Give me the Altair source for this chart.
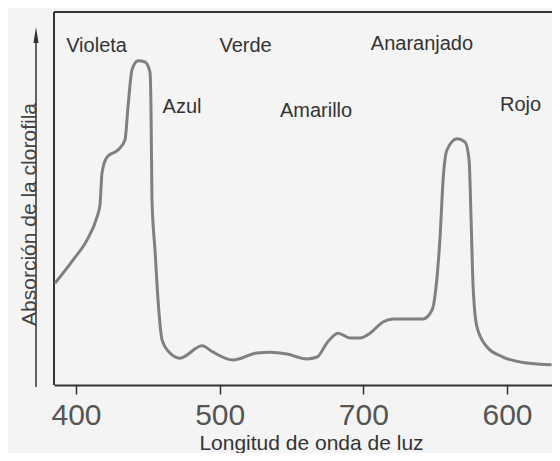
import altair as alt
import pandas as pd

# Curve (wavelength as drawn on the axis, relative absorption 0-100)
wavelength = [385.4, 397.9, 407.7, 414.6, 416.7, 418.1, 421.6, 429.2, 434.1, 436.2,
              439.0, 443.2, 448.0, 451.5, 452.2, 452.9, 455.0, 457.1, 459.9, 465.4,
              472.4, 487.7, 495.4, 509.3, 526.0, 535.0, 546.9, 560.8, 567.8, 574.7,
              582.4, 590.7, 597.7, 604.7, 613.7, 620.7, 641.5, 647.8, 651.3, 653.4,
              655.5, 658.2, 665.2, 670.8, 673.6, 675.0, 676.4, 679.1, 686.1, 697.2,
              713.9, 731.0]
absorption = [27.3, 33.5, 38.9, 45.0, 48.3, 56.8, 61.1, 63.0, 65.7, 74.5,
              84.5, 86.9, 86.6, 83.9, 74.5, 49.6, 36.2, 22.8, 12.1, 8.6,
              7.2, 10.5, 8.8, 6.7, 8.6, 8.8, 8.3, 7.0, 7.5, 11.3,
              13.9, 12.6, 12.6, 13.9, 16.9, 17.7, 17.7, 20.1, 29.0, 39.7,
              55.0, 63.0, 66.0, 65.1, 60.3, 44.2, 26.3, 15.5, 10.2, 7.5,
              5.9, 5.4]

# Colour names placed inside the plot
color_names = ["Violeta", "Verde", "Azul", "Amarillo", "Anaranjado", "Rojo"]
name_x = [414.3, 518.0, 473.8, 567.1, 640.8, 709.4]
name_y = [89.3, 89.3, 72.9, 71.8, 89.7, 73.5]

# Axis ticks
tick_values = [400, 500, 600, 700]
tick_labels = ["400", "500", "700", "600"]

x_title = "Longitud de onda de luz"
y_title = "Absorción de la clorofila"

W, H = 498, 373
FONT = "Liberation Sans"
DARK = "#333333"

curve_df = pd.DataFrame({"nm": wavelength, "abs": absorption})
names_df = pd.DataFrame({"name": color_names, "nm": name_x, "abs": name_y})
one = pd.DataFrame({"k": [0]})

label_expr = " : ".join(
    f"datum.value == {v} ? '{l}'" for v, l in zip(tick_values, tick_labels)
) + " : ''"

x_scale = alt.Scale(domain=[384.7, 731.3], nice=False, zero=False)
y_scale = alt.Scale(domain=[0, 100], nice=False, zero=True)

x_axis = alt.Axis(
    values=tick_values, labelExpr=label_expr, grid=False,
    domainColor=DARK, domainWidth=2, tickColor=DARK, tickWidth=1.5, tickSize=9,
    labelFont=FONT, labelFontSize=30, labelColor="#555555", labelPadding=6,
    title=x_title, titleFont=FONT, titleFontSize=21, titleFontWeight="normal",
    titleColor=DARK, titleX=257, titleY=64, titleBaseline="alphabetic",
    titleAlign="center",
)
y_axis = alt.Axis(
    domain=False, ticks=False, labels=False, grid=False,
    title=y_title, titleFont=FONT, titleFontSize=21, titleFontWeight="normal",
    titleColor="#444444", titleX=-19, titleY=202, titleAngle=-90,
    titleBaseline="alphabetic", titleAlign="center",
)

curve = alt.Chart(curve_df).mark_line(
    color="#808080", strokeWidth=3, interpolate="monotone"
).encode(
    x=alt.X("nm:Q", scale=x_scale, axis=x_axis),
    y=alt.Y("abs:Q", scale=y_scale, axis=y_axis),
    order="nm:Q",
)

labels = alt.Chart(names_df).mark_text(
    font=FONT, fontSize=20, color=DARK, align="center", baseline="alphabetic"
).encode(
    x=alt.X("nm:Q", scale=x_scale),
    y=alt.Y("abs:Q", scale=y_scale),
    text="name:N",
)

top_line = alt.Chart(one).mark_rule(color=DARK, strokeWidth=2).encode(
    x=alt.value(0), x2=alt.value(W), y=alt.value(0)
)
left_line = alt.Chart(one).mark_rule(color=DARK, strokeWidth=2).encode(
    x=alt.value(0), y=alt.value(0), y2=alt.value(H)
)
arrow_line = alt.Chart(one).mark_rule(color=DARK, strokeWidth=1.5).encode(
    x=alt.value(-18), y=alt.value(22), y2=alt.value(375)
)
arrow_head = alt.Chart(one).mark_point(
    shape="M0,-1L0.32,1L-0.32,1Z", filled=True, color=DARK, opacity=1, size=256
).encode(x=alt.value(-18), y=alt.value(23))

chart = alt.layer(
    top_line, left_line, arrow_line, arrow_head, curve, labels
).properties(
    width=W, height=H,
    autosize=alt.AutoSizeParams(type="none"),
    padding={"left": 46, "top": 4, "right": 0, "bottom": 68},
    background="#f4f4f4",
).configure_view(stroke=None)

chart.save("out.html", embed_options={"renderer": "svg", "actions": False})
